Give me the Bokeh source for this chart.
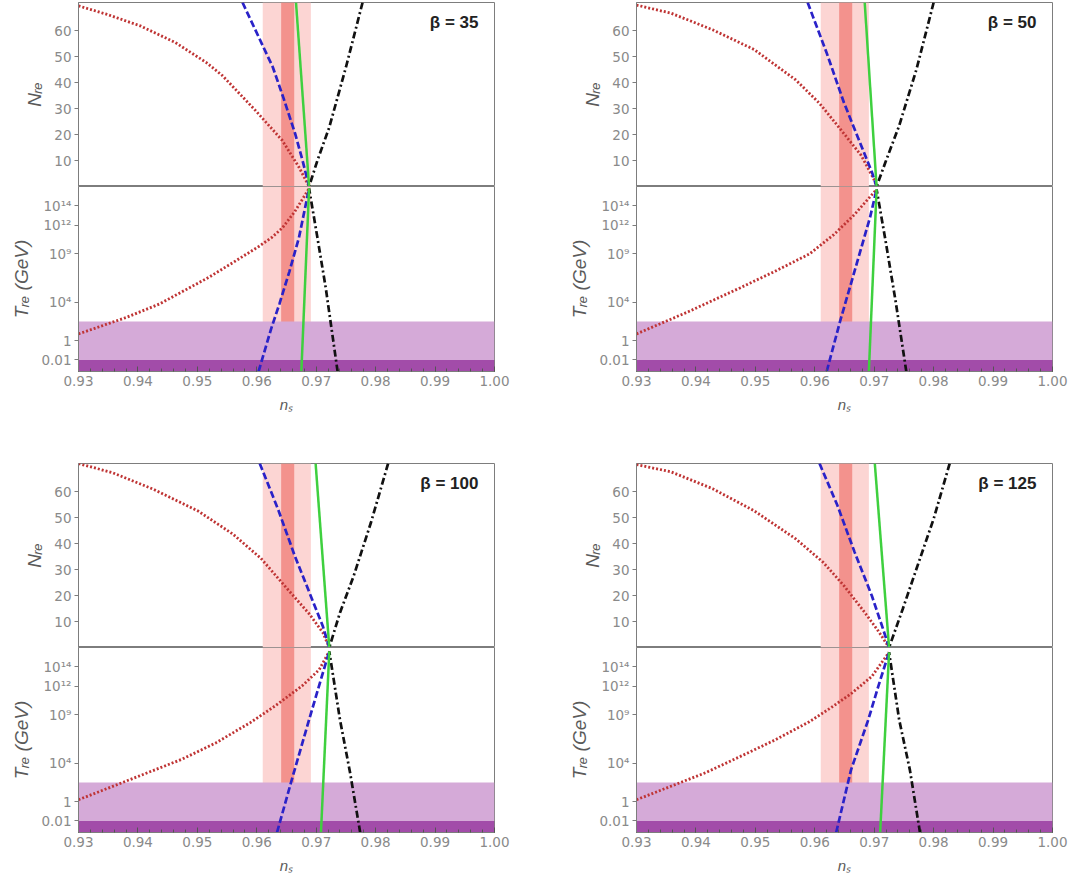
from bokeh.plotting import figure
from bokeh.layouts import column, row
from bokeh.models import Range1d, FixedTicker, BoxAnnotation, Label, NumeralTickFormatter
from bokeh.embed import file_html
from bokeh.resources import INLINE

# ---------------- data ----------------
BETAS = [35, 50, 100, 125]

NS_TICKS = [0.93, 0.94, 0.95, 0.96, 0.97, 0.98, 0.99, 1.00]
N_TICKS = [10, 20, 30, 40, 50, 60]
T_TICKS = [1e-2, 1, 1e4, 1e9, 1e12, 1e14]
T_TICK_LABELS = ["0.01", "1", "10\u2074", "10\u2079", "10\u00b9\u00b2", "10\u00b9\u2074"]

# observational bands in n_s
NS_BAND_WIDE = (0.9610, 0.9691)
NS_BAND_NARROW = (0.9641, 0.9663)
# temperature bounds (GeV)
T_BBN = 1e-2
T_EW = 1e2

# --- beta = 35 ---
B35_RED_NS = [0.930, 0.9347, 0.9404, 0.9463, 0.9515, 0.9542, 0.9598, 0.9643, 0.9671, 0.9688]
B35_RED_N = [69.5, 66.3, 61.8, 55.4, 47.7, 42.7, 29.2, 17.7, 7.4, 0.0]
B35_BLUE_NS = [0.9576, 0.9627, 0.9645, 0.9665, 0.9677, 0.9688]
B35_BLUE_N = [70.8, 45.9, 34.0, 20.0, 10.0, 0.0]
B35_GREEN_NS = [0.9666, 0.9688]
B35_GREEN_N = [70.8, 0.0]
B35_BLACK_NS = [0.9778, 0.9750, 0.9722, 0.9702, 0.9688]
B35_BLACK_N = [70.8, 45.9, 22.8, 10.0, 0.0]
B35_RED_TNS = [0.930, 0.9380, 0.9436, 0.9469, 0.9520, 0.9565, 0.9604, 0.9626, 0.9643, 0.9664, 0.9688]
B35_RED_LOGT = [0.7, 2.4, 3.8, 4.9, 6.6, 8.3, 9.8, 10.75, 11.7, 13.4, 15.8]
B35_BLUE_TNS = [0.9603, 0.9624, 0.9638, 0.9655, 0.9671, 0.9688]
B35_BLUE_LOGT = [-3.2, 1.2, 3.8, 7.2, 10.7, 15.8]
B35_GREEN_TNS = [0.9675, 0.9688]
B35_GREEN_LOGT = [-3.2, 15.8]
B35_BLACK_TNS = [0.9736, 0.9716, 0.9702, 0.9688]
B35_BLACK_LOGT = [-3.2, 5.5, 10.7, 15.8]

# --- beta = 50 ---
B50_RED_NS = [0.930, 0.9358, 0.9428, 0.9498, 0.9568, 0.9608, 0.9643, 0.9678, 0.9699, 0.9704]
B50_RED_N = [69.8, 66.7, 60.3, 52.7, 41.0, 32.0, 22.1, 12.0, 3.0, 0.0]
B50_BLUE_NS = [0.9588, 0.9620, 0.9649, 0.9678, 0.9696, 0.9704]
B50_BLUE_N = [70.8, 51.4, 32.3, 15.8, 5.6, 0.0]
B50_GREEN_NS = [0.9684, 0.9704]
B50_GREEN_N = [70.8, 0.0]
B50_BLACK_NS = [0.9800, 0.9771, 0.9742, 0.9719, 0.9704]
B50_BLACK_N = [70.8, 45.0, 23.4, 9.4, 0.0]
B50_RED_TNS = [0.930, 0.9387, 0.9475, 0.9533, 0.9591, 0.9632, 0.9667, 0.9704]
B50_RED_LOGT = [0.7, 3.0, 5.5, 7.2, 9.0, 11.0, 13.1, 15.7]
B50_BLUE_TNS = [0.9620, 0.9643, 0.9672, 0.9693, 0.9704]
B50_BLUE_LOGT = [-3.2, 2.1, 8.3, 12.8, 15.7]
B50_GREEN_TNS = [0.9691, 0.9704]
B50_GREEN_LOGT = [-3.2, 15.7]
B50_BLACK_TNS = [0.9754, 0.9736, 0.9719, 0.9704]
B50_BLACK_LOGT = [-3.2, 4.1, 10.4, 15.7]

# --- beta = 100 ---
B100_RED_NS = [0.930, 0.9358, 0.9427, 0.9502, 0.9560, 0.9607, 0.9647, 0.9688, 0.9711, 0.9722]
B100_RED_N = [70.8, 67.2, 60.8, 52.4, 43.6, 34.3, 23.7, 13.0, 5.8, 0.0]
B100_BLUE_NS = [0.9605, 0.9636, 0.9664, 0.9693, 0.9711, 0.9722]
B100_BLUE_N = [70.8, 53.1, 35.2, 18.6, 8.3, 0.0]
B100_GREEN_NS = [0.9699, 0.9722]
B100_GREEN_N = [70.8, 0.0]
B100_BLACK_NS = [0.9821, 0.9792, 0.9763, 0.9740, 0.9722]
B100_BLACK_N = [70.8, 48.0, 27.5, 13.4, 0.0]
B100_RED_TNS = [0.930, 0.9387, 0.9474, 0.9531, 0.9589, 0.9630, 0.9676, 0.9705, 0.9722]
B100_RED_LOGT = [0.2, 2.3, 4.4, 6.1, 8.2, 9.9, 12.0, 13.7, 15.6]
B100_BLUE_TNS = [0.9634, 0.9659, 0.9688, 0.9708, 0.9722]
B100_BLUE_LOGT = [-3.2, 2.3, 8.5, 12.7, 15.6]
B100_GREEN_TNS = [0.9708, 0.9722]
B100_GREEN_LOGT = [-3.2, 15.6]
B100_BLACK_TNS = [0.9774, 0.9757, 0.9740, 0.9722]
B100_BLACK_LOGT = [-3.2, 3.0, 8.5, 15.6]

# --- beta = 125 ---
B125_RED_NS = [0.930, 0.9358, 0.9428, 0.9498, 0.9568, 0.9614, 0.9649, 0.9684, 0.9707, 0.9725]
B125_RED_N = [70.4, 67.6, 61.1, 52.6, 41.8, 32.8, 23.8, 13.5, 6.3, 0.0]
B125_BLUE_NS = [0.9608, 0.9638, 0.9667, 0.9696, 0.9713, 0.9725]
B125_BLUE_N = [70.8, 54.7, 36.7, 19.9, 8.4, 0.0]
B125_GREEN_NS = [0.9701, 0.9725]
B125_GREEN_N = [70.8, 0.0]
B125_BLACK_NS = [0.9827, 0.9800, 0.9771, 0.9748, 0.9725]
B125_BLACK_N = [70.8, 49.5, 30.2, 14.8, 0.0]
B125_RED_TNS = [0.930, 0.9358, 0.9416, 0.9475, 0.9533, 0.9591, 0.9626, 0.9661, 0.9696, 0.9725]
B125_RED_LOGT = [0.2, 1.6, 3.0, 4.7, 6.4, 8.3, 9.7, 11.2, 13.0, 15.5]
B125_BLUE_TNS = [0.9636, 0.9661, 0.9690, 0.9707, 0.9725]
B125_BLUE_LOGT = [-3.2, 3.3, 8.5, 12.0, 15.5]
B125_GREEN_TNS = [0.9710, 0.9725]
B125_GREEN_LOGT = [-3.2, 15.5]
B125_BLACK_TNS = [0.9777, 0.9760, 0.9742, 0.9725]
B125_BLACK_LOGT = [-3.2, 3.3, 8.5, 15.5]

PANELS = {
    35: dict(red=(B35_RED_NS, B35_RED_N, B35_RED_TNS, B35_RED_LOGT),
             blue=(B35_BLUE_NS, B35_BLUE_N, B35_BLUE_TNS, B35_BLUE_LOGT),
             green=(B35_GREEN_NS, B35_GREEN_N, B35_GREEN_TNS, B35_GREEN_LOGT),
             black=(B35_BLACK_NS, B35_BLACK_N, B35_BLACK_TNS, B35_BLACK_LOGT)),
    50: dict(red=(B50_RED_NS, B50_RED_N, B50_RED_TNS, B50_RED_LOGT),
             blue=(B50_BLUE_NS, B50_BLUE_N, B50_BLUE_TNS, B50_BLUE_LOGT),
             green=(B50_GREEN_NS, B50_GREEN_N, B50_GREEN_TNS, B50_GREEN_LOGT),
             black=(B50_BLACK_NS, B50_BLACK_N, B50_BLACK_TNS, B50_BLACK_LOGT)),
    100: dict(red=(B100_RED_NS, B100_RED_N, B100_RED_TNS, B100_RED_LOGT),
              blue=(B100_BLUE_NS, B100_BLUE_N, B100_BLUE_TNS, B100_BLUE_LOGT),
              green=(B100_GREEN_NS, B100_GREEN_N, B100_GREEN_TNS, B100_GREEN_LOGT),
              black=(B100_BLACK_NS, B100_BLACK_N, B100_BLACK_TNS, B100_BLACK_LOGT)),
    125: dict(red=(B125_RED_NS, B125_RED_N, B125_RED_TNS, B125_RED_LOGT),
              blue=(B125_BLUE_NS, B125_BLUE_N, B125_BLUE_TNS, B125_BLUE_LOGT),
              green=(B125_GREEN_NS, B125_GREEN_N, B125_GREEN_TNS, B125_GREEN_LOGT),
              black=(B125_BLACK_NS, B125_BLACK_N, B125_BLACK_TNS, B125_BLACK_LOGT)),
}

# ---------------- styles ----------------
STYLE = {
    "red": dict(line_color="#bf3434", line_width=2.8, line_dash="2 2"),
    "blue": dict(line_color="#2a22c8", line_width=2.7, line_dash="7 3"),
    "green": dict(line_color="#3fd03f", line_width=2.5, line_dash="solid"),
    "black": dict(line_color="#111111", line_width=2.7, line_dash="7 3 2 3"),
}
ORDER = ["red", "blue", "black", "green"]

FONT = "Liberation Sans"
TICK_FONT = "DejaVu Sans"
TICK_COLOR = "#8a8a8a"
LABEL_COLOR = "#5a5a5a"
FRAME_COLOR = "#7d7d7d"
PINK_LIGHT = "#fcd5d3"
PINK_DARK = "#f3928d"
PURPLE_LIGHT = "#d5aad8"
PURPLE_DARK = "#a24ca9"

FW, FH_UP, FH_LO = 416, 184, 185
LB = 78


def style_common(p):
    p.grid.visible = False
    p.outline_line_color = FRAME_COLOR
    p.outline_line_width = 1
    p.background_fill_color = "white"
    p.border_fill_color = "white"
    ax = p.yaxis[0]
    ax.axis_line_color = FRAME_COLOR
    ax.major_tick_line_color = FRAME_COLOR
    ax.major_tick_in = 0
    ax.major_tick_out = 4
    ax.minor_tick_line_color = None
    ax.major_label_text_font = TICK_FONT
    ax.major_label_text_font_size = "13.5px"
    ax.major_label_text_color = TICK_COLOR
    ax.major_label_standoff = 3
    ax.axis_label_text_font = FONT
    ax.axis_label_text_font_size = "19px"
    ax.axis_label_text_font_style = "italic"
    ax.axis_label_text_color = LABEL_COLOR
    ax.axis_label_standoff = 6


def bands(p):
    p.add_layout(BoxAnnotation(left=NS_BAND_WIDE[0], right=NS_BAND_WIDE[1],
                               fill_color=PINK_LIGHT, fill_alpha=1, line_color=None, level="underlay"))
    p.add_layout(BoxAnnotation(left=NS_BAND_NARROW[0], right=NS_BAND_NARROW[1],
                               fill_color=PINK_DARK, fill_alpha=1, line_color=None, level="underlay"))


def make_panel(beta, rb, top_b, bottom_b):
    data = PANELS[beta]
    xr = Range1d(0.93, 1.00)
    up = figure(width=LB + FW + rb, height=top_b + FH_UP, x_range=xr, y_range=Range1d(0, 70.8),
                output_backend="svg", toolbar_location=None, x_axis_location=None,
                min_border_left=LB, min_border_right=rb, min_border_top=top_b, min_border_bottom=0)
    style_common(up)
    up.yaxis.ticker = FixedTicker(ticks=N_TICKS, minor_ticks=[])
    up.yaxis.axis_label = "N\u1d63\u2091"
    bands(up)
    for c in ORDER:
        xs, ys, _, _ = data[c]
        up.line(xs, ys, **STYLE[c])
    up.add_layout(Label(x=0.9973, y=63.1, text=f"\u03b2 = {beta}", text_align="right",
                        text_baseline="middle", text_font=FONT, text_font_style="bold",
                        text_font_size="17px", text_color="#222222"))

    lo = figure(width=LB + FW + rb, height=FH_LO + bottom_b, x_range=xr,
                y_range=Range1d(10 ** -3.2, 10 ** 16), y_axis_type="log",
                output_backend="svg", toolbar_location=None,
                min_border_left=LB, min_border_right=rb, min_border_top=0, min_border_bottom=bottom_b)
    style_common(lo)
    lo.yaxis.ticker = FixedTicker(ticks=T_TICKS, minor_ticks=[])
    lo.yaxis.major_label_overrides = {t: s for t, s in zip(T_TICKS, T_TICK_LABELS)}
    lo.yaxis.axis_label = "T\u1d63\u2091 (GeV)"
    bands(lo)
    lo.add_layout(BoxAnnotation(bottom=T_BBN, top=T_EW, fill_color=PURPLE_LIGHT, fill_alpha=1,
                                line_color=None, level="underlay"))
    lo.add_layout(BoxAnnotation(top=T_BBN, fill_color=PURPLE_DARK, fill_alpha=1,
                                line_color=None, level="underlay"))
    for c in ORDER:
        _, _, xs, ls = data[c]
        lo.line(xs, [10 ** v for v in ls], **STYLE[c])

    xa = lo.xaxis[0]
    xa.ticker = FixedTicker(ticks=NS_TICKS, minor_ticks=[round(0.93 + 0.002 * i, 4) for i in range(36)])
    xa.formatter = NumeralTickFormatter(format="0.00")
    xa.axis_line_color = FRAME_COLOR
    xa.major_tick_line_color = "#555555"
    xa.major_tick_in = 5
    xa.major_tick_out = 0
    xa.minor_tick_line_color = "#555555"
    xa.minor_tick_in = 3
    xa.minor_tick_out = 0
    xa.major_label_text_font = TICK_FONT
    xa.major_label_text_font_size = "13.5px"
    xa.major_label_text_color = TICK_COLOR
    xa.major_label_standoff = 4
    xa.axis_label = "n\u209b"
    xa.axis_label_text_font = FONT
    xa.axis_label_text_font_size = "15px"
    xa.axis_label_text_font_style = "italic"
    xa.axis_label_text_color = LABEL_COLOR
    xa.axis_label_standoff = 7
    return column(up, lo, spacing=0)


tl = make_panel(35, 64, 2, 50)
tr = make_panel(50, 20, 2, 50)
bl = make_panel(100, 64, 42, 46)
br = make_panel(125, 20, 42, 46)

layout = column(row(tl, tr, spacing=0), row(bl, br, spacing=0), spacing=0)

open("out.html", "w").write(file_html(layout, INLINE))
